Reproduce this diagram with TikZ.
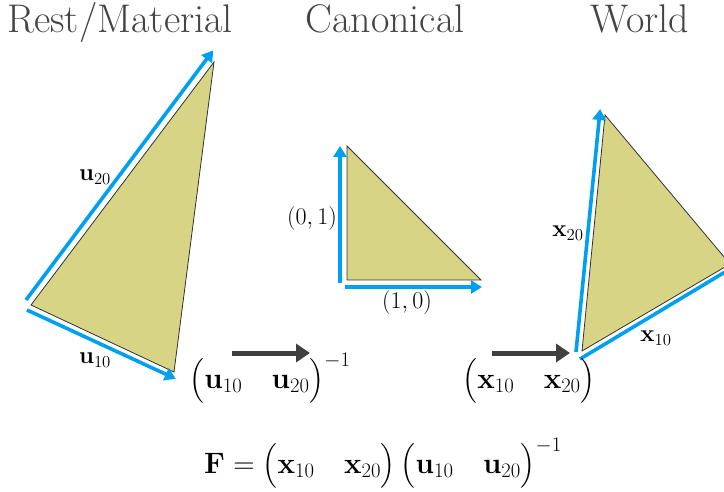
\RequirePackage{fix-cm}
\documentclass[tikz,border=0pt]{standalone}
\usepackage{amsmath}
\usetikzlibrary{arrows.meta}
\definecolor{triFill}{RGB}{216,212,134}
\definecolor{triEdge}{RGB}{50,50,50}
\definecolor{vecBlue}{RGB}{0,160,240}
\definecolor{mapGray}{RGB}{64,64,64}
\definecolor{titleGray}{RGB}{68,68,68}
\tikzset{
  tri/.style={fill=triFill, draw=triEdge, line width=0.8pt, line join=miter},
  vec/.style={draw=vecBlue, line width=3.6pt, -{Triangle[length=11pt,width=13pt]}, shorten >=-2pt},
  maparrow/.style={draw=mapGray, line width=5pt, -{Triangle[length=14pt,width=18pt]}},
  title/.style={text=titleGray, font=\fontsize{40}{46}\selectfont, inner sep=0pt, anchor=base},
  lab/.style={font=\fontsize{24}{28}\selectfont, inner sep=1pt},
  coordlab/.style={font=\fontsize{24}{28}\selectfont, inner sep=1pt},
  bigmath/.style={font=\fontsize{29.5}{35}\selectfont, inner sep=0pt}
}
\begin{document}
\begin{tikzpicture}[x=1pt,y=-1pt]
\useasboundingbox (0,0) rectangle (724,492);
\clip (0,0) rectangle (724,492);
% titles
\node[title] (tRest) at (120,33) {Rest/Material};
\node[title] (tCan) at (385,33) {Canonical};
\node[title] (tWorld) at (640,33) {World};
% rest triangle
\coordinate (r0) at (31,305);
\coordinate (r1) at (174,372);
\coordinate (r2) at (214,62);
\filldraw[tri] (r0) -- (r1) -- (r2) -- cycle;
\coordinate (ru2s) at (26,300);
\coordinate (ru2e) at (212,52);
\coordinate (ru1s) at (27,310);
\coordinate (ru1e) at (174,378);
\draw[vec] (ru2s) -- (ru2e);
\draw[vec] (ru1s) -- (ru1e);
\node[lab] (lu20) at (95,177) {$\mathbf{u}_{20}$};
\node[lab] (lu10) at (95,360) {$\mathbf{u}_{10}$};
% canonical triangle
\coordinate (c0) at (347,280);
\coordinate (c1) at (481,280);
\coordinate (c2) at (347,146);
\filldraw[tri] (c0) -- (c1) -- (c2) -- cycle;
\coordinate (cu2s) at (340,283);
\coordinate (cu2e) at (340,148);
\coordinate (cu1s) at (345,287);
\coordinate (cu1e) at (480,287);
\draw[vec] (cu2s) -- (cu2e);
\draw[vec] (cu1s) -- (cu1e);
\node[coordlab] (l01) at (312,219) {$(0,1)$};
\node[coordlab] (l10) at (407,303) {$(1,0)$};
% world triangle
\coordinate (w0) at (582,351);
\coordinate (w1) at (730,264);
\coordinate (w2) at (605,115);
\filldraw[tri] (w0) -- (w1) -- (w2) -- cycle;
\coordinate (wx2s) at (576,352);
\coordinate (wx2e) at (600,111);
\coordinate (wx1s) at (580,359);
\coordinate (wx1e) at (735,266);
\draw[vec] (wx2s) -- (wx2e);
\draw[vec] (wx1s) -- (wx1e);
\node[lab] (lx20) at (568,233) {$\mathbf{x}_{20}$};
\node[lab] (lx10) at (656,338) {$\mathbf{x}_{10}$};
% mapping arrows
\coordinate (m1s) at (232,353);
\coordinate (m1e) at (310,353);
\coordinate (m2s) at (492,353);
\coordinate (m2e) at (570,353);
\draw[maparrow] (m1s) -- (m1e);
\draw[maparrow] (m2s) -- (m2e);
\node[bigmath] (invU) at (270,378) {$\bigl(\mathbf{u}_{10}\quad\mathbf{u}_{20}\bigr)^{-1}$};
\node[bigmath] (matX) at (529,381) {$\bigl(\mathbf{x}_{10}\quad\mathbf{x}_{20}\bigr)$};
\node[bigmath] (formF) at (383,463) {$\mathbf{F}=\bigl(\mathbf{x}_{10}\quad\mathbf{x}_{20}\bigr)\,\bigl(\mathbf{u}_{10}\quad\mathbf{u}_{20}\bigr)^{-1}$};
\end{tikzpicture}
\end{document}
